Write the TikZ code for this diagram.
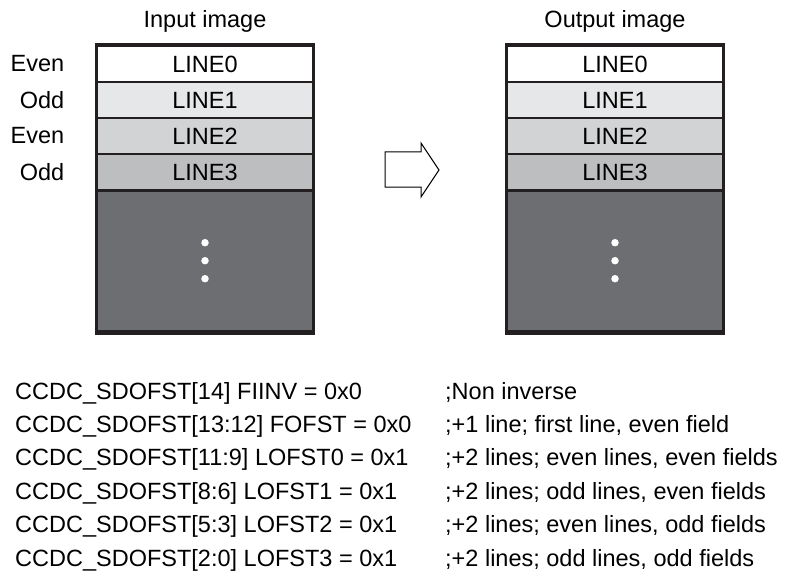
\documentclass[tikz,border=0pt]{standalone}
\usepackage{fontspec}
\setmainfont{Liberation Sans}
\usetikzlibrary{positioning}
\definecolor{rowA}{HTML}{E6E7E8}
\definecolor{rowB}{HTML}{D1D3D4}
\definecolor{rowC}{HTML}{BCBEC0}
\definecolor{restgray}{HTML}{6D6E71}
\definecolor{framecol}{HTML}{231F20}

\begin{document}
\begin{tikzpicture}[x=1pt, y=-1pt, font=\fontsize{23.5}{28}\selectfont,
  rowbox/.style={draw=framecol, line width=1.2pt, minimum width=216pt, minimum height=36pt, inner sep=0pt},
  txt/.style={inner sep=0pt},
  dot/.style={circle, fill=white, inner sep=0pt, minimum size=7.5pt}]
  \useasboundingbox (0,0) rectangle (786,588);

  % the two frames
  \foreach \b/\cx/\title in {in/205/Input image, out/615/Output image} {
    \fill[restgray!70] (\cx-108.5,45) rectangle (\cx+108.5,333);
    \foreach \i/\shade in {0/white, 1/rowA, 2/rowB, 3/rowC}
      \node[rowbox, fill=\shade] (\b\i) at (\cx, 64+36*\i) {LINE\i};
    \node[rowbox, fill=restgray, minimum height=139pt, anchor=north] (\b4) at (\b3.south) {};
    \foreach \d [count=\k] in {-18,0,18}
      \path (\b4.center) ++(0,\d) node[dot] (\b-dot\k) {};
    \draw[framecol, line width=3.5pt] (\cx-108.5,45) rectangle (\cx+108.5,333);
    \node[txt, anchor=base] (\b-title) at (\cx, 28) {\title};
  }

  \foreach \i/\fld in {0/Even, 1/Odd, 2/Even, 3/Odd}
    \node[txt, left=32pt of in\i] (fld\i) {\fld};

  % block arrow
  \draw[line width=1pt, fill=white] (385,152) -- (421,152) -- (421,143) -- (439,170)
    -- (421,197) -- (421,187) -- (385,187) -- cycle;

  % register settings
  \foreach \reg/\note [count=\i from 0] in {
      {CCDC\_SDOFST[14] FIINV = 0x0}/{;Non inverse},
      {CCDC\_SDOFST[13:12] FOFST = 0x0}/{;+1 line; first line, even field},
      {CCDC\_SDOFST[11:9] LOFST0 = 0x1}/{;+2 lines; even lines, even fields},
      {CCDC\_SDOFST[8:6] LOFST1 = 0x1}/{;+2 lines; odd lines, even fields},
      {CCDC\_SDOFST[5:3] LOFST2 = 0x1}/{;+2 lines; even lines, odd fields},
      {CCDC\_SDOFST[2:0] LOFST3 = 0x1}/{;+2 lines; odd lines, odd fields}} {
    \node[txt, anchor=base west] (reg\i) at (15, 399+33.4*\i) {\reg};
    \node[txt, anchor=base west] (note\i) at (445, 399+33.4*\i) {\note};
  }
\end{tikzpicture}
\end{document}
